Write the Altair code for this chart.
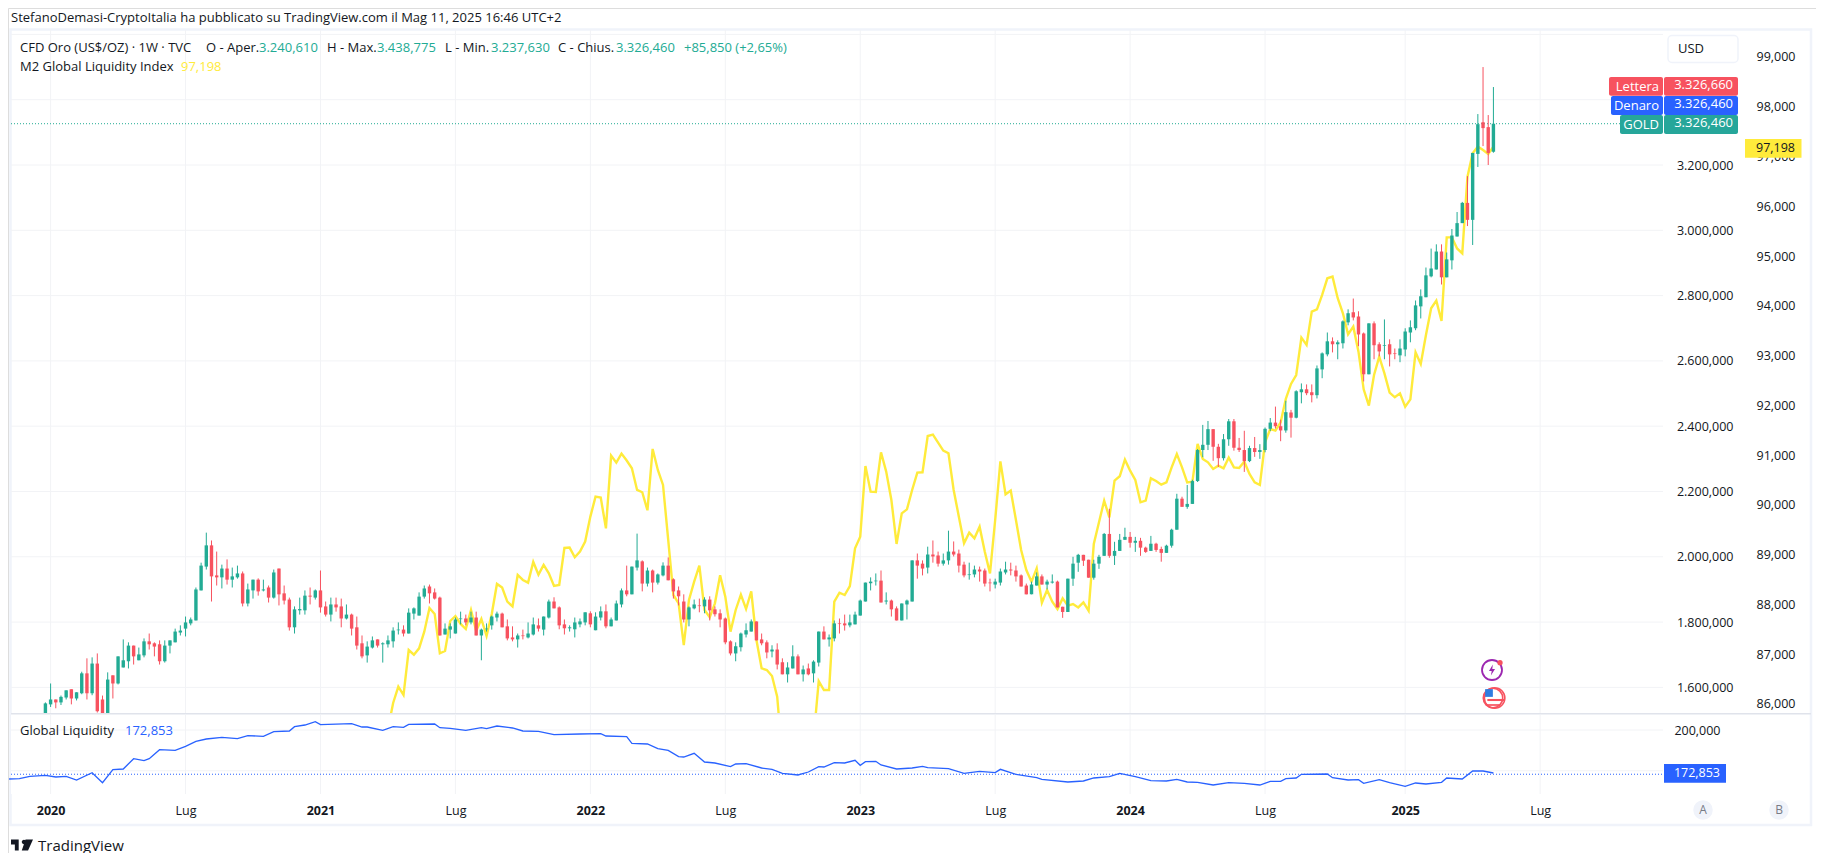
import altair as alt
import pandas as pd

# Weekly candles: bar index -1 .. 278 (index 0 = first week of 2020)
o = [1512,1548,1563,1554,1569,1594,1566,1582,1643,1582,
1673,1563,1512,1637,1612,1661,1680,1728,1683,1698,
1741,1735,1732,1680,1728,1738,1768,1780,1796,1805,
1897,1970,2035,1943,1937,1964,1930,1937,1949,1857,
1897,1930,1897,1906,1875,1964,1888,1869,1784,1836,
1836,1881,1875,1897,1848,1823,1854,1848,1811,1823,
1784,1735,1698,1722,1747,1732,1732,1741,1775,1777,
1765,1826,1820,1878,1909,1891,1875,1762,1777,1765,
1809,1811,1799,1814,1759,1778,1790,1814,1826,1787,
1753,1747,1759,1753,1762,1790,1777,1814,1863,1845,
1793,1781,1778,1793,1799,1827,1775,1814,1833,1787,
1805,1854,1897,1885,1967,1986,1918,1958,1921,1943,
1973,1931,1897,1863,1808,1842,1851,1848,1869,1839,
1827,1811,1741,1704,1723,1762,1771,1802,1747,1738,
1710,1716,1677,1640,1658,1695,1640,1658,1643,1676,
1771,1747,1750,1796,1796,1790,1793,1820,1863,1919,
1925,1927,1863,1866,1842,1805,1854,1863,1989,1979,
1967,2007,2004,1979,1989,2016,2010,1976,1944,1946,
1961,1958,1921,1915,1921,1952,1961,1958,1943,1912,
1885,1912,1940,1915,1921,1924,1847,1831,1933,1982,
2006,1991,1936,1979,2003,2070,2003,2018,2052,2061,
2043,2049,2028,2018,2040,2024,2012,2034,2083,2178,
2153,2162,2232,2327,2343,2391,2337,2302,2360,2415,
2334,2327,2293,2333,2321,2327,2392,2411,2400,2387,
2442,2426,2504,2513,2504,2495,2574,2620,2660,2651,
2654,2718,2749,2736,2684,2559,2715,2651,2646,2651,
2623,2617,2635,2687,2700,2767,2795,2859,2880,2935,
2856,2908,2981,3022,3084,3032,3234,3331,3316,3240.61]
h = [1554,1612,1563,1575,1591,1594,1585,1648,1689,1692,
1704,1575,1646,1637,1695,1747,1738,1728,1722,1750,
1765,1738,1744,1744,1744,1780,1790,1817,1814,1906,
1982,2074,2050,2016,1976,1992,1967,1973,1955,1918,
1930,1934,1930,1912,1961,1964,1912,1875,1848,1875,
1897,1906,1900,1958,1863,1875,1875,1872,1854,1826,
1817,1759,1741,1756,1747,1738,1759,1784,1799,1790,
1842,1845,1891,1912,1915,1903,1878,1796,1796,1814,
1832,1823,1832,1832,1780,1796,1820,1832,1829,1808,
1787,1765,1777,1799,1814,1811,1817,1869,1876,1848,
1808,1790,1814,1811,1830,1833,1830,1848,1854,1814,
1866,1903,1973,1970,2071,1989,1967,1961,1949,1983,
1998,1934,1909,1885,1848,1869,1872,1876,1879,1848,
1839,1814,1744,1738,1768,1796,1808,1802,1765,1744,
1729,1735,1689,1677,1729,1701,1667,1673,1683,1771,
1787,1762,1805,1811,1823,1823,1832,1869,1921,1937,
1949,1958,1891,1869,1848,1857,1869,1989,2010,1989,
2031,2050,2016,2010,2080,2047,2022,1985,1982,1973,
1970,1964,1933,1933,1964,1985,1982,1973,1946,1918,
1924,1952,1946,1930,1946,1927,1847,1933,2000,2009,
2006,1991,1991,2006,2073,2147,2046,2070,2089,2076,
2061,2058,2031,2064,2043,2031,2037,2086,2193,2184,
2220,2236,2330,2404,2416,2391,2346,2376,2422,2422,
2364,2386,2340,2367,2345,2396,2425,2460,2420,2478,
2450,2510,2531,2528,2528,2586,2626,2687,2672,2663,
2724,2758,2791,2752,2687,2715,2721,2657,2727,2666,
2638,2666,2700,2724,2785,2819,2886,2944,2957,2957,
2932,3004,3056,3087,3166,3237,3356,3500,3353,3438.775]
l = [1502,1540,1536,1546,1563,1548,1560,1579,1563,1576,
1523,1502,1502,1566,1609,1661,1658,1670,1683,1692,
1716,1695,1670,1676,1704,1738,1759,1756,1790,1805,
1897,1961,1863,1912,1903,1915,1906,1933,1848,1848,
1872,1881,1894,1860,1872,1851,1854,1774,1765,1823,
1823,1854,1869,1829,1817,1802,1832,1784,1808,1759,
1716,1689,1676,1719,1722,1676,1722,1722,1762,1756,
1765,1808,1820,1872,1857,1869,1759,1762,1750,1765,
1793,1790,1793,1759,1683,1771,1777,1802,1784,1744,
1741,1722,1747,1750,1759,1771,1759,1811,1842,1778,
1762,1771,1753,1784,1790,1784,1775,1805,1781,1787,
1805,1845,1879,1885,1958,1894,1909,1891,1915,1940,
1928,1872,1851,1799,1787,1839,1830,1827,1805,1817,
1784,1732,1698,1680,1710,1753,1771,1744,1729,1689,
1692,1655,1640,1615,1658,1640,1618,1637,1615,1664,
1747,1725,1741,1765,1774,1784,1793,1820,1863,1897,
1912,1860,1854,1817,1805,1805,1808,1863,1933,1943,
1949,1982,1970,1973,1976,2001,1952,1937,1930,1937,
1924,1909,1894,1903,1912,1946,1943,1924,1909,1885,
1885,1912,1915,1900,1918,1845,1813,1831,1911,1954,
1972,1936,1930,1963,2003,1997,1975,2018,2052,2028,
2015,2003,2012,2018,2015,1985,2012,2028,2083,2153,
2147,2162,2229,2305,2327,2294,2275,2295,2340,2325,
2321,2260,2290,2306,2300,2320,2385,2393,2354,2380,
2365,2424,2470,2495,2473,2485,2547,2614,2626,2605,
2638,2709,2724,2645,2537,2559,2605,2614,2605,2583,
2605,2596,2614,2657,2694,2730,2795,2856,2880,2834,
2856,2880,2981,3022,3013,2955,3194,3258,3200,3237.63]
c = [1551,1563,1554,1571,1591,1566,1585,1643,1582,1673,
1527,1512,1624,1612,1695,1683,1728,1695,1701,1741,
1732,1725,1680,1728,1744,1771,1774,1799,1808,1900,
1973,2035,1940,1937,1964,1930,1940,1949,1857,1900,
1930,1894,1900,1875,1952,1885,1866,1784,1839,1840,
1881,1878,1897,1845,1823,1854,1845,1811,1823,1780,
1728,1695,1725,1744,1728,1735,1744,1774,1777,1765,
1829,1842,1878,1903,1888,1872,1759,1780,1787,1808,
1811,1799,1814,1759,1777,1780,1817,1826,1784,1750,
1747,1759,1757,1765,1793,1780,1817,1863,1842,1790,
1781,1784,1799,1802,1830,1793,1817,1833,1787,1808,
1857,1897,1885,1970,1989,1918,1958,1921,1946,1973,
1928,1894,1879,1808,1845,1854,1849,1869,1836,1824,
1808,1738,1704,1726,1765,1775,1802,1744,1735,1707,
1716,1670,1640,1661,1695,1640,1655,1640,1679,1771,
1747,1753,1796,1794,1790,1799,1823,1866,1921,1924,
1927,1860,1866,1839,1805,1857,1866,1989,1973,1964,
2007,2001,1979,1989,2016,2007,1973,1943,1946,1961,
1955,1918,1919,1924,1955,1961,1958,1940,1909,1885,
1915,1940,1915,1924,1924,1845,1831,1933,1979,2006,
1988,1936,1979,2000,2070,2003,2018,2052,2061,2043,
2049,2028,2015,2040,2021,2012,2034,2083,2178,2153,
2162,2232,2327,2343,2391,2337,2302,2360,2415,2334,
2327,2293,2333,2321,2327,2392,2411,2400,2387,2443,
2426,2507,2513,2501,2495,2577,2623,2660,2651,2657,
2721,2746,2733,2681,2559,2715,2648,2629,2648,2620,
2621,2638,2690,2703,2770,2798,2862,2883,2935,2856,
2911,2984,3022,3084,3032,3237,3325,3313,3237,3326.46]

# M2 Global Liquidity Index, bar index 64 .. 278
m2 = [85100,85500,86020,86348,86180,87085,86991,87118,87453,87929,87809,87018,87065,87668,87768,
87608,87507,87889,87467,87708,87366,87809,88412,88338,88056,87963,88592,88492,88438,88854,88599,
88793,88626,88371,88391,89135,89142,88948,89062,89263,89765,90167,90147,89530,90991,90850,91031,
90891,90736,90301,90254,89892,91125,90703,90401,89296,88190,88023,87185,88090,88458,88780,87889,
87742,88023,88586,88157,87454,87889,88197,87909,88264,87286,86716,86683,86562,86147,84900,84600,
84700,84500,84800,85000,85300,86461,86280,86280,88056,88236,88190,88370,89127,89362,90782,90267,
90260,91057,90669,90099,89215,89831,89911,90300,90648,90655,91385,91412,91251,91091,91037,90300,
89764,89228,89442,89329,89563,89060,88625,89697,90876,90213,90287,89697,89094,88692,88457,88725,
88035,88290,88056,87908,88122,87975,88008,87941,88042,87874,89214,89650,90085,89750,90488,90575,
90910,90688,90501,90052,90085,90534,90481,90407,90454,90755,91023,90755,90454,90467,91225,90923,
90856,90722,90789,90735,90950,90755,90742,90869,90621,90454,90400,91258,91526,91492,91660,92129,
92430,92610,93361,93213,93884,93930,94218,94553,94587,94152,93850,93428,93582,93079,92322,91994,
92610,92979,92644,92255,92162,92242,91974,92121,93066,92832,93414,93950,94105,93696,95375,95375,
95153,95053,96594,97063,97197,97130,97050,97198]
m2_start = 64

# Global Liquidity, read at turning points
gl_bar = [-8,-6,-4,-1,1,3,5,8,10,12,14,16,18,19,21,24,26,28,30,33,36,38,41,43,46,47,49,51,52,58,60,61,64,66,68,69,74,75,77,80,83,84,86,89,91,94,97,102,106,107,111,112,115,117,119,121,122,124,126,128,131,132,134,137,139,141,144,146,148,149,151,153,155,156,157,159,160,163,166,168,169,173,176,179,182,183,186,190,191,196,199,201,204,206,209,212,215,217,219,221,224,227,230,233,235,237,238,240,241,246,247,250,252,253,256,258,261,263,265,268,269,272,274,276,278]
gl_val = [169939,170143,171575,172188,171166,171575,169325,173824,167689,175665,176074,182413,181186,182413,187934,187525,189979,193047,194478,195501,194683,196523,196115,198978,199387,202045,203068,205113,203272,203886,201841,201841,199796,202045,201636,203477,203682,201432,201023,199796,201432,200818,202454,201227,199387,199182,197137,197546,197751,196319,195910,191820,191411,188548,187525,183639,183435,185684,180368,179754,177505,179141,179345,176687,175869,173415,172393,174233,177505,177301,179959,179754,181391,178323,180573,180777,178528,176074,176687,177710,176892,176278,173415,174642,173824,175869,172801,170756,169734,168098,168712,170552,171371,173415,171371,168916,168712,169734,168098,167894,166258,167689,167280,166258,168507,168507,170143,170552,172801,173006,170756,169325,169530,167280,169530,167689,165440,167485,166872,167894,170552,169939,174846,174846,173619]

x_ticks = [0,26,52,78,104,130,156,182,208,234,261,287]
x_labels = ['2020','Lug','2021','Lug','2022','Lug','2023','Lug','2024','Lug','2025','Lug']
year_ticks = [0,52,104,156,208,261]
gold_axis = [1600,1800,2000,2200,2400,2600,2800,3000,3200]
gold_grid = gold_axis + [3400,3600]
m2_axis = [86000,87000,88000,89000,90000,91000,92000,93000,94000,95000,96000,97000,98000,99000]
gl_axis = [175000,200000]
last_gold = 3326.46
last_gl = 172853

assert len(o)==len(h)==len(l)==len(c)==280, (len(o),len(h),len(l),len(c))
assert m2_start+len(m2)-1==278, len(m2)
assert len(gl_bar)==len(gl_val), (len(gl_bar),len(gl_val))

FONT = "Open Sans"
INK = "#131722"
GREEN = "#22ab94"
RED = "#f7525f"
BLUE = "#2962ff"
YELLOW = "#ffeb3b"
GRID = "#f2f3f6"
W, H = 1808, 845

def P(v):
    return v - 8

candles = pd.DataFrame({"bar": list(range(-1, 279)), "o": o, "h": h, "l": l, "c": c})
candles["dir"] = ["up" if b >= a else "down" for a, b in zip(o, c)]
m2_df = pd.DataFrame({"bar": list(range(m2_start, m2_start + len(m2))), "v": m2})
gl_df = pd.DataFrame({"bar": gl_bar, "v": gl_val})
x_df = pd.DataFrame({"bar": x_ticks})
one = pd.DataFrame({"a": [0]})

xs = alt.Scale(domain=[0, 287], range=[P(50.6), P(50.6) + 287 * 5.19], nice=False, zero=False, padding=0)
gold_s = alt.Scale(domain=[1518.5, 3613.5], range=[P(714), P(30)], nice=False, zero=False)
m2_s = alt.Scale(domain=[85799, 99542], range=[P(714), P(30)], nice=False, zero=False)
gl_s = alt.Scale(domain=[160736, 209816], range=[P(794), P(714)], nice=False, zero=False)

X = alt.X("bar:Q", scale=xs, axis=None)
xexpr = "[" + ",".join(f"'{s}'" for s in x_labels) + "][indexof(" + str(x_ticks) + ",datum.value)]"
X_AXIS = alt.X("bar:Q", scale=xs, axis=alt.Axis(
    values=x_ticks, labelExpr=xexpr, orient="bottom", offset=P(810) - H, domain=False, ticks=False,
    grid=False, labelPadding=0, tickSize=0, title=None, labelBaseline="middle", labelFont=FONT,
    labelFontSize=12.5, labelColor=INK, labelFlush=False, labelOverlap=False, labelBound=False,
    labelFontWeight={"condition": {"test": f"indexof({year_ticks},datum.value)>=0", "value": "bold"}, "value": "normal"}))

def box(x1, x2, y1, y2, **kw):
    return alt.Chart(one).mark_rect(**kw).encode(
        x=alt.value(P(x1)), x2=alt.value(P(x2)), y=alt.value(P(y1)), y2=alt.value(P(y2)))

def txt(s, x, y, color=INK, size=13, align="left", weight="normal"):
    return alt.Chart(pd.DataFrame({"t": [s]})).mark_text(
        font=FONT, fontSize=size, color=color, align=align, baseline="middle", fontWeight=weight
    ).encode(x=alt.value(P(x)), y=alt.value(P(y)), text="t:N")

def dot(x, y, **kw):
    return alt.Chart(one).mark_point(**kw).encode(x=alt.value(P(x)), y=alt.value(P(y)))

def hgrid(values, scale, x2):
    return alt.Chart(pd.DataFrame({"v": values})).mark_rule(color=GRID, strokeWidth=1).encode(
        y=alt.Y("v:Q", scale=scale, axis=None), x=alt.value(P(11)), x2=alt.value(P(x2)))

def vgrid(y1, y2):
    return alt.Chart(x_df).mark_rule(color=GRID, strokeWidth=1).encode(
        x=X, y=alt.value(P(y1)), y2=alt.value(P(y2)))

def hline(value, scale, x2, color):
    return alt.Chart(pd.DataFrame({"v": [value]})).mark_rule(color=color, strokeWidth=1, strokeDash=[1, 2]).encode(
        y=alt.Y("v:Q", scale=scale, axis=None), x=alt.value(P(11)), x2=alt.value(P(x2)))

color = alt.Color("dir:N", scale=alt.Scale(domain=["up", "down"], range=[GREEN, RED]), legend=None)

gold_axis_def = alt.Axis(values=gold_axis, orient="right", offset=P(1733) - W, labelAlign="right",
    labelExpr="replace(format(datum.value,','),',','.')+',000'", domain=False, ticks=False, tickSize=0,
    grid=False, labelPadding=0, title=None, labelFont=FONT, labelFontSize=12.5, labelColor=INK, labelOverlap=False,
    labelBound=False, labelFlush=False)
m2_axis_def = alt.Axis(values=m2_axis, orient="right", offset=P(1795) - W, labelAlign="right",
    labelExpr="format(datum.value,',')",
    domain=False, ticks=False, tickSize=0, grid=False, labelPadding=0, title=None, labelFont=FONT,
    labelFontSize=12.5, labelColor=INK, labelOverlap=False, labelBound=False, labelFlush=False)
gl_axis_def = alt.Axis(values=gl_axis, orient="right", offset=P(1720) - W, labelAlign="right",
    labelExpr="format(datum.value,',')",
    domain=False, ticks=False, tickSize=0, grid=False, labelPadding=0, title=None, labelFont=FONT,
    labelFontSize=12.5, labelColor=INK, labelOverlap=False, labelBound=False, labelFlush=False)

yellow = alt.Chart(m2_df).mark_line(color=YELLOW, strokeWidth=2.4).encode(
    x=X, y=alt.Y("v:Q", scale=m2_s, axis=m2_axis_def))
wicks = alt.Chart(candles).mark_rule(strokeWidth=1).encode(
    x=X, y=alt.Y("l:Q", scale=gold_s, axis=None), y2="h:Q", color=color)
bodies = alt.Chart(candles).mark_bar(size=3.4).encode(
    x=X_AXIS, y=alt.Y("o:Q", scale=gold_s, axis=gold_axis_def), y2="c:Q", color=color)
blue = alt.Chart(gl_df).mark_line(color=BLUE, strokeWidth=1.3).encode(
    x=X, y=alt.Y("v:Q", scale=gl_s, axis=gl_axis_def))

layers = [
    box(10.5, 1811, 29.5, 825, filled=False, stroke="#f0f3fa", strokeWidth=2.5),
    vgrid(30, 713), hgrid(gold_grid, gold_s, 1663), hline(last_gold, gold_s, 1620, "#22ab94"),
    yellow, wicks, bodies,
    box(11, 1664, 714, 794, fill="#ffffff"),
    box(11, 1811, 713, 714.6, fill="#e0e3eb"),
    vgrid(715, 794), hgrid(gl_axis, gl_s, 1663), hline(last_gl, gl_s, 1664, BLUE), blue,
]

# Price tags
layers += [
    box(1668, 1738, 35.5, 62.5, fill="#ffffff", stroke="#f0f3fa", strokeWidth=1.5, cornerRadius=4),
    txt("USD", 1678, 49),
    box(1609, 1663, 77, 95.7, fill=RED, cornerRadius=2), box(1664, 1738, 77, 95.7, fill=RED, cornerRadius=2),
    box(1611, 1663, 96, 115, fill=BLUE, cornerRadius=2), box(1664, 1738, 96, 115, fill=BLUE, cornerRadius=2),
    box(1620, 1663, 115, 134, fill="#26a69a", cornerRadius=2), box(1664, 1738, 115, 134, fill="#26a69a", cornerRadius=2),
    txt("Lettera", 1659, 87, "#ffffff", align="right"), txt("3.326,660", 1733, 85, "#ffffff", align="right"),
    txt("Denaro", 1659, 106, "#ffffff", align="right"), txt("3.326,460", 1733, 104, "#ffffff", align="right"),
    txt("GOLD", 1659, 125, "#ffffff", align="right"), txt("3.326,460", 1733, 123, "#ffffff", align="right"),
    box(1745, 1801.5, 139, 157.7, fill=YELLOW),
    txt("97,198", 1795, 147.5, INK, align="right", size=12.5),
    box(1664, 1726, 764, 782.7, fill=BLUE),
    txt("172,853", 1720, 773, "#ffffff", align="right", size=12.5),
]

# Legends and titles
layers += [
    txt("StefanoDemasi-CryptoItalia ha pubblicato su TradingView.com il Mag 11, 2025 16:46 UTC+2", 11, 17.5),
    txt("CFD Oro (US$/OZ) · 1W · TVC", 20, 47.5),
    txt("O - Aper.", 206, 47.5), txt("3.240,610", 259, 47.5, GREEN),
    txt("H - Max.", 327, 47.5), txt("3.438,775", 377, 47.5, GREEN),
    txt("L - Min.", 445, 47.5), txt("3.237,630", 491, 47.5, GREEN),
    txt("C - Chius.", 558, 47.5), txt("3.326,460", 616, 47.5, GREEN),
    txt("+85,850 (+2,65%)", 684, 47.5, GREEN),
    txt("M2 Global Liquidity Index", 20, 66.5), txt("97,198", 181, 66.5, YELLOW),
    txt("Global Liquidity", 20, 731), txt("172,853", 125, 731, BLUE),
    txt("TradingView", 38, 845.5, INK, size=15),
    dot(22, 845, shape="M-1,-.5H-.3V.5H-.65V-.05H-1ZM-.02,-.28A.2,.2 0 1,1 -.02,-.279ZM.32,-.5H1L.55,.5H-.02Z",
        filled=True, size=484, color=INK, opacity=1),
]

# Pane badges and event icons
layers += [
    dot(1703, 810, shape="circle", filled=True, size=380, color="#f0f3fa", opacity=1), txt("A", 1703, 810, "#787b86", size=12, align="center"),
    dot(1779, 810, shape="circle", filled=True, size=380, color="#f0f3fa", opacity=1), txt("B", 1779, 810, "#787b86", size=12, align="center"),
    dot(1492, 670, shape="circle", filled=False, size=400, color="#9c27b0", strokeWidth=1.8, opacity=1),
    dot(1492, 670, shape="M.15,-1L-.55,.2H-.05L-.2,1L.55,-.2H.05Z", filled=True, size=120, color="#9c27b0", opacity=1),
    dot(1500, 662.7, shape="circle", filled=True, size=28, color=RED, opacity=1),
    dot(1494.6, 698, shape="circle", filled=False, size=420, color=RED, strokeWidth=1.6, opacity=1),
    dot(1493, 698, shape="circle", filled=False, size=380, color=RED, strokeWidth=1.6, opacity=1),
    dot(1489, 693, shape="square", filled=True, size=60, color="#2f7de1", opacity=1),
    dot(1496, 700, shape="M-1,-.12H1V.12H-1Z", filled=True, size=300, color=RED, opacity=1),
    dot(1493, 705, shape="M-1,-.12H1V.12H-1Z", filled=True, size=200, color=RED, opacity=1),
]

chart = alt.layer(*layers).resolve_scale(y="independent").resolve_axis(x="independent").properties(
    width=W, height=H, padding=0, autosize=alt.AutoSizeParams(type="none", contains="content")
).configure_view(stroke=None).configure(background="#ffffff")

chart.save("out.html", embed_options={"renderer": "svg", "actions": False})
